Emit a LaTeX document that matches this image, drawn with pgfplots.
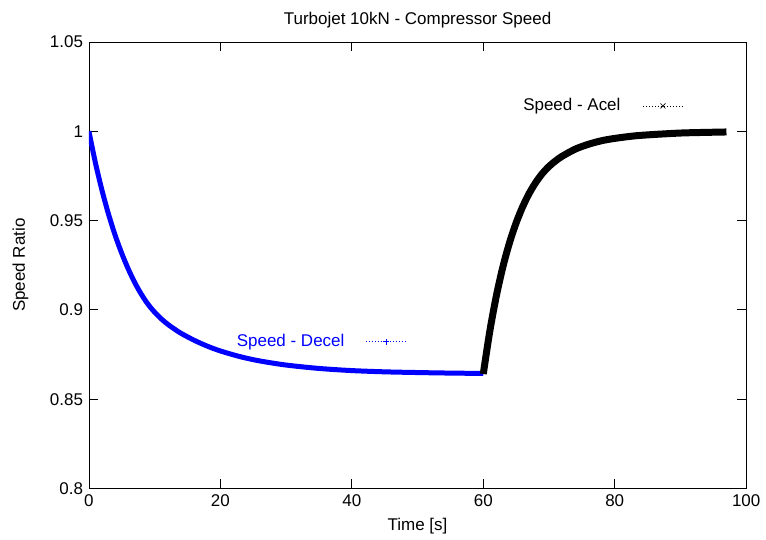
\documentclass[border=0pt]{standalone}
\usepackage{pgfplots}
\pgfplotsset{compat=1.18}
\usepackage{fontspec}
\setmainfont{Liberation Sans}
\pgfplotsset{
  common/.style={
    scale only axis, width=658pt, height=447pt,
    xmin=0, xmax=100, ymin=0.8, ymax=1.05,
    /pgf/number format/assume math mode=true,
    major tick length=9pt,
    legend cell align=right,
    legend plot pos=right,
  },
}
\begin{document}
\fontsize{17}{20}\selectfont
\begin{tikzpicture}
\begin{axis}[common, name=ax,
  axis line style={line width=0.8pt},
  every tick/.style={black, line width=0.8pt},
  xtick={0,20,40,60,80,100},
  ytick={0.8,0.85,0.9,0.95,1,1.05},
  yticklabels={0.8,0.85,0.9,0.95,1,1.05},
  title={Turbojet 10kN - Compressor Speed},
  title style={yshift=2pt},
  xlabel={Time [s]},
  ylabel={Speed Ratio},
  ylabel style={yshift=10pt},
  legend style={draw=none, fill=none, text=blue, at={(axis cs:48.3,0.8822)}, anchor=east, inner sep=0pt},
  legend image code/.code={
    \path (0pt,0pt);
    \draw[blue, line width=0.6pt, dash pattern=on 1.5pt off 1.5pt] (17pt,0pt) -- (57pt,0pt);
    \draw[blue, line width=0.6pt] (34pt,0pt) -- (40pt,0pt) (37pt,-3pt) -- (37pt,3pt);
  },
]
\addplot[blue, line width=5pt, line join=round, smooth, tension=0.5] coordinates {
(0,1.0000) (1,0.9822) (2,0.9668) (3,0.9534) (4,0.9417) (5,0.9316) (6,0.9228) (7,0.9151)
(8,0.9086) (9,0.9031) (10,0.8987) (11,0.8950) (12,0.8919) (13,0.8893) (14,0.8869) (16,0.8830)
(18,0.8797) (20,0.8770) (23,0.8738) (26,0.8714) (30,0.8691) (35,0.8672) (40,0.8660) (45,0.8653)
(50,0.8649) (55,0.8646) (60,0.8644)
};
\addlegendentry{Speed - Decel}
\end{axis}
\begin{axis}[common, hide axis,
  legend style={draw=none, fill=none, text=black, at={(axis cs:90.45,1.0142)}, anchor=east, inner sep=0pt},
  legend image code/.code={
    \path (0pt,0pt);
    \draw[black, line width=0.6pt, dash pattern=on 1.5pt off 1.5pt] (17pt,0pt) -- (57pt,0pt);
    \draw[black, line width=0.6pt] (34.5pt,-2.5pt) -- (39.5pt,2.5pt) (34.5pt,2.5pt) -- (39.5pt,-2.5pt);
  },
]
\addplot[black, line width=7pt, line join=round, smooth, tension=0.5] coordinates {
(60,0.8641) (61,0.8882) (62,0.9080) (63,0.9243) (64,0.9377) (65,0.9487) (66,0.9578) (67,0.9653)
(68,0.9714) (69,0.9764) (70,0.9803) (71,0.9834) (72,0.9860) (74,0.9900) (76,0.9927) (78,0.9947)
(80,0.9960) (83,0.9974) (86,0.9982) (90,0.9990) (93,0.9993) (97,0.9996)
};
\addlegendentry{Speed - Acel}
\end{axis}
\path ([xshift=-89pt,yshift=-50pt]ax.south west) rectangle ([xshift=19pt,yshift=42pt]ax.north east);
\end{tikzpicture}
\end{document}
